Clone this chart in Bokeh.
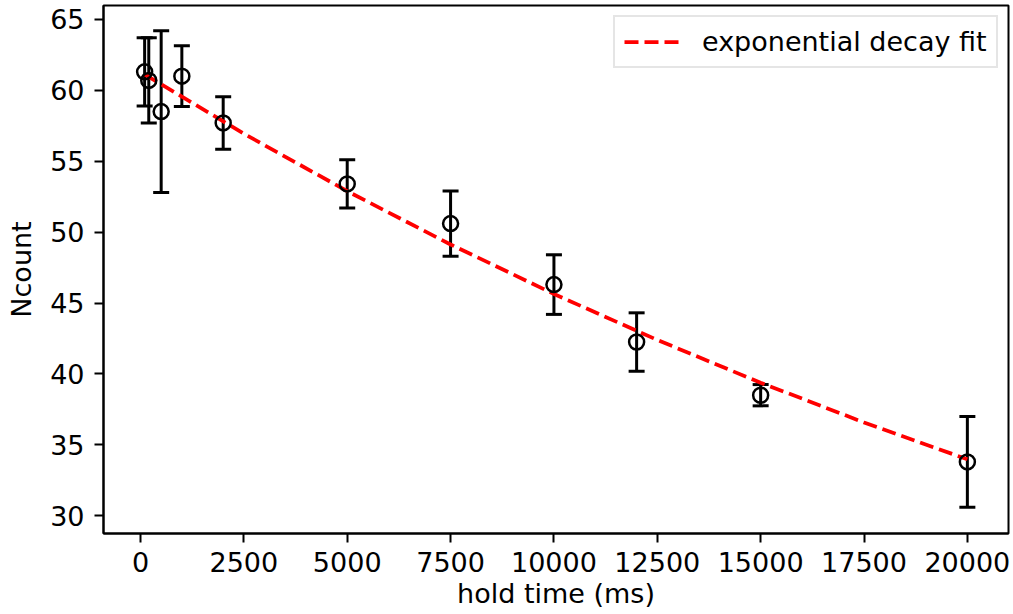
from bokeh.plotting import figure
from bokeh.models import ColumnDataSource, Whisker, TeeHead, FixedTicker, Range1d, Legend, LegendItem
from bokeh.embed import file_html
from bokeh.resources import INLINE

# Data
hold_ms = [100, 200, 500, 1000, 2000, 5000, 7500, 10000, 12000, 15000, 20000]
ncount = [61.3, 60.7, 58.5, 61.0, 57.7, 53.4, 50.6, 46.3, 42.25, 38.5, 33.8]
ncount_err = [2.4, 3.0, 5.7, 2.15, 1.85, 1.7, 2.3, 2.1, 2.06, 0.75, 3.2]

# exponential decay fit curve
fit_ms = [100, 2500, 5000, 7500, 10000, 12500, 15000, 17500, 20000]
fit_ncount = [61.12, 56.94, 52.89, 49.13, 45.64, 42.40, 39.38, 36.58, 33.98]

x_ticks = [0, 2500, 5000, 7500, 10000, 12500, 15000, 17500, 20000]
y_ticks = [30, 35, 40, 45, 50, 55, 60, 65]

FONT = "DejaVu Sans"
FS = "27px"

src = ColumnDataSource(dict(
    x=hold_ms, y=ncount,
    lo=[v - e for v, e in zip(ncount, ncount_err)],
    hi=[v + e for v, e in zip(ncount, ncount_err)],
))
fit_src = ColumnDataSource(dict(x=fit_ms, y=fit_ncount))

p = figure(width=1013, height=614, output_backend="svg", toolbar_location=None,
           x_range=Range1d(-895, 20995), y_range=Range1d(28.75, 65.98),
           min_border_left=103, min_border_right=5, min_border_top=5, min_border_bottom=81)

p.background_fill_color = "white"
p.border_fill_color = "white"
p.outline_line_color = "black"
p.outline_line_width = 2
p.xgrid.visible = False
p.ygrid.visible = False

fit_r = p.line("x", "y", source=fit_src, line_color="#ff0000", line_width=3.75, line_dash="14 6")

w = Whisker(source=src, base="x", lower="lo", upper="hi", dimension="height",
            line_color="black", line_width=3,
            upper_head=TeeHead(size=16, line_color="black", line_width=3),
            lower_head=TeeHead(size=16, line_color="black", line_width=3))
p.add_layout(w)

p.scatter("x", "y", source=src, marker="circle", size=15, fill_color=None,
          line_color="black", line_width=2.5)

for ax in (p.xaxis[0], p.yaxis[0]):
    ax.major_label_text_font = FONT
    ax.major_label_text_font_size = FS
    ax.major_label_text_color = "black"
    ax.axis_label_text_font = FONT
    ax.axis_label_text_font_size = FS
    ax.axis_label_text_font_style = "normal"
    ax.axis_label_text_color = "black"
    ax.axis_line_color = "black"
    ax.axis_line_width = 2
    ax.major_tick_line_color = "black"
    ax.major_tick_line_width = 2
    ax.major_tick_out = 9
    ax.major_tick_in = 0
    ax.minor_tick_line_color = None

p.xaxis.ticker = FixedTicker(ticks=x_ticks)
p.yaxis.ticker = FixedTicker(ticks=y_ticks)
p.xaxis.axis_label = "hold time (ms)"
p.yaxis.axis_label = "Ncount"
p.xaxis.major_label_standoff = 9
p.yaxis.major_label_standoff = 10
p.xaxis.axis_label_standoff = 3
p.yaxis.axis_label_standoff = 10

legend = Legend(items=[LegendItem(label="exponential decay fit", renderers=[fit_r])],
                location=(510, 465))
legend.margin = 0
legend.padding = 9
legend.spacing = 0
legend.glyph_width = 56
legend.glyph_height = 29
legend.label_standoff = 22
legend.label_height = 29
legend.label_text_font = FONT
legend.label_text_font_size = FS
legend.label_text_color = "black"
legend.border_line_color = "#cccccc"
legend.border_line_width = 2
legend.background_fill_alpha = 0.8
p.add_layout(legend)

open("out.html", "w").write(file_html(p, INLINE))
